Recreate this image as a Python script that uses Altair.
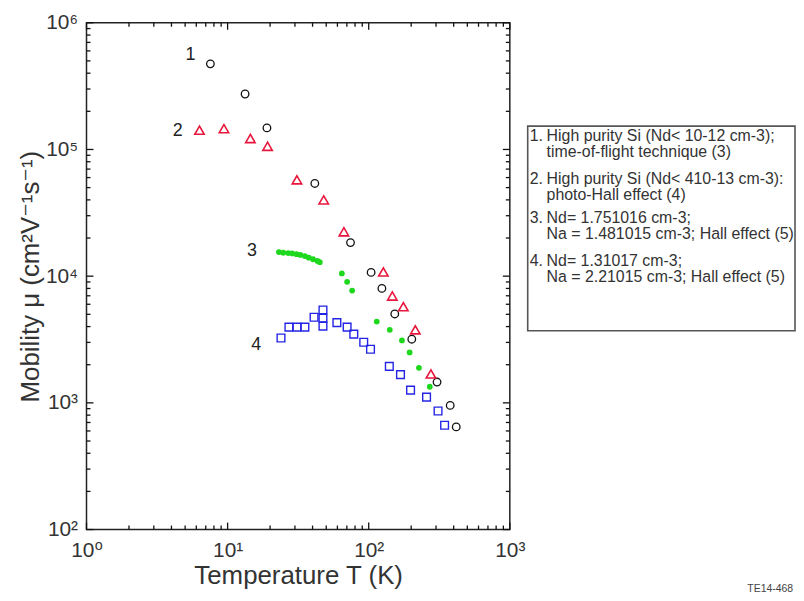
import altair as alt
import pandas as pd

# ---------------- data ----------------
# 1. High purity Si, time-of-flight (black open circles)
t1 = [7.55, 13.3, 19.0, 41.5, 74.3, 104, 124, 153, 202, 305, 378, 417]
m1 = [4.74e5, 2.74e5, 1.48e5, 5.39e4, 1.84e4, 1.07e4, 8.0e3, 5.03e3, 3.18e3, 1.46e3, 955, 646]
# 2. High purity Si, photo-Hall (red open triangles)
t2 = [6.32, 9.42, 14.5, 19.2, 31.0, 48.0, 66.7, 127, 147, 176, 214, 276]
m2 = [1.42e5, 1.46e5, 1.22e5, 1.06e5, 5.76e4, 4.0e4, 2.24e4, 1.08e4, 6.97e3, 5.74e3, 3.77e3, 1.69e3]
# 3. Nd=1.75e16, Na=1.48e15 (green dots)
t3 = [23.1, 24.8, 26.9, 28.7, 30.8, 32.8, 35.3, 37.6, 40.3, 43.3, 45.0,
      64.5, 70.3, 76.3, 114, 141, 172, 195, 227, 271]
m3 = [1.55e4, 1.53e4, 1.52e4, 1.51e4, 1.49e4, 1.47e4, 1.44e4, 1.40e4, 1.36e4, 1.32e4, 1.29e4,
      1.05e4, 9.02e3, 7.69e3, 4.38e3, 3.77e3, 3.11e3, 2.50e3, 1.89e3, 1.34e3]
# 4. Nd=1.3e17, Na=2.2e15 (blue open squares)
t4 = [23.9, 27.2, 31.0, 35.3, 41.0, 47.4, 47.4, 47.4, 59.5, 70.3, 78.4, 92.2, 103,
      140, 168, 198, 257, 310, 345]
m4 = [3.25e3, 3.96e3, 3.96e3, 3.96e3, 4.74e3, 5.41e3, 4.66e3, 4.03e3, 4.30e3, 3.96e3, 3.49e3,
      3.01e3, 2.65e3, 1.94e3, 1.67e3, 1.26e3, 1.11e3, 862, 666]

series_numbers = ["1", "2", "3", "4"]

legend_heads = ["1.", "2.", "3.", "4."]
legend_texts = [
    "High purity Si (Nd< 10-12 cm-3);\ntime-of-flight technique (3)",
    "High purity Si (Nd< 410-13 cm-3):\nphoto-Hall effect (4)",
    "Nd= 1.751016 cm-3;\nNa = 1.481015 cm-3; Hall effect (5)",
    "Nd= 1.31017 cm-3;\nNa = 2.21015 cm-3; Hall effect (5)",
]

x_major = [1, 10, 100, 1000]
y_major = [1e2, 1e3, 1e4, 1e5, 1e6]
x_minor = [m * 10 ** k for k in range(0, 3) for m in range(2, 10)]
y_minor = [m * 10 ** k for k in range(2, 6) for m in range(2, 10)]
footer = "TE14-468"

# ---------------- layout / style ----------------
W, H = 426, 510
FONT = "Liberation Sans, Arial, DejaVu Sans"
TXT = "#333333"

xs = alt.Scale(type="log", domain=[1, 1000], nice=False)
ys = alt.Scale(type="log", domain=[100, 1e6], nice=False)

sup = "['⁰','¹','²','³','⁴','⁵','⁶'][round(log(datum.value)/LN10)]"
xaxis = alt.Axis(values=x_major, labelExpr="'10' + " + sup, ticks=False, tickSize=0,
                 domain=False, grid=False, labelPadding=10, labelFontSize=21,
                 labelFont=FONT, labelColor=TXT, title="Temperature T (K)",
                 titleFont=FONT, titleFontSize=26, titleFontWeight="normal",
                 titleColor=TXT, titlePadding=2, labelFlush=False)
yaxis = alt.Axis(values=y_major, labelExpr="'10' + " + sup, ticks=False, tickSize=0,
                 domain=False, grid=False, labelPadding=9, labelFontSize=21,
                 labelFont=FONT, labelColor=TXT, title="Mobility μ (cm²V⁻¹s⁻¹)",
                 titleFont=FONT, titleFontSize=26, titleFontWeight="normal",
                 titleColor=TXT, titlePadding=2, labelFlush=False)


def X():
    return alt.X("T:Q", scale=xs, axis=xaxis)


def Y():
    return alt.Y("mu:Q", scale=ys, axis=yaxis)


d1 = pd.DataFrame({"T": t1, "mu": m1})
d2 = pd.DataFrame({"T": t2, "mu": m2})
d3 = pd.DataFrame({"T": t3, "mu": m3})
d4 = pd.DataFrame({"T": t4, "mu": m4})

s1 = alt.Chart(d1).mark_point(shape="circle", filled=False, color="#111111",
                              strokeWidth=1.3, size=58, opacity=1).encode(x=X(), y=Y())
s2 = alt.Chart(d2).mark_point(shape="triangle-up", filled=False, color="#e8163c",
                              strokeWidth=1.6, size=90, opacity=1).encode(x=X(), y=Y())
s3 = alt.Chart(d3).mark_circle(color="#1ed81e", size=34, opacity=1).encode(x=X(), y=Y())
s4 = alt.Chart(d4).mark_point(shape="square", filled=False, color="#2424e6",
                              strokeWidth=1.4, size=60, opacity=1).encode(x=X(), y=Y())

# series number labels anchored on each series' first point
offsets = [(-20, -9), (-22, 1), (-27, -1), (-25, 7)]
firsts = [(t1[0], m1[0]), (t2[0], m2[0]), (t3[0], m3[0]), (t4[0], m4[0])]
num_layers = []
for lab, (tt, mm), (dx, dy) in zip(series_numbers, firsts, offsets):
    num_layers.append(
        alt.Chart(pd.DataFrame({"T": [tt], "mu": [mm], "lab": [lab]}))
        .mark_text(font=FONT, fontSize=18, color="#222222", dx=dx, dy=dy)
        .encode(x=X(), y=Y(), text="lab:N")
    )

# small inward ticks on all four sides
TK = "#111111"


def xticks(vals, ln):
    b = alt.Chart(pd.DataFrame({"T": vals}))
    bot = b.mark_rule(color=TK, strokeWidth=1.3, opacity=1).encode(
        x=X(), y=alt.value(H), y2=alt.value(H - ln))
    top = b.mark_rule(color=TK, strokeWidth=1.3, opacity=1).encode(
        x=X(), y=alt.value(0), y2=alt.value(ln))
    return [bot, top]


def yticks(vals, ln):
    b = alt.Chart(pd.DataFrame({"mu": vals}))
    lft = b.mark_rule(color=TK, strokeWidth=1.3, opacity=1).encode(
        y=Y(), x=alt.value(0), x2=alt.value(ln))
    rgt = b.mark_rule(color=TK, strokeWidth=1.3, opacity=1).encode(
        y=Y(), x=alt.value(W), x2=alt.value(W - ln))
    return [lft, rgt]


tick_layers = xticks(x_minor, 4) + xticks(x_major, 7) + yticks(y_minor, 4) + yticks(y_major, 7)

# text legend box at the right
one = pd.DataFrame({"k": [0]})
box = alt.Chart(one).mark_rect(fill="white", stroke="#555555", strokeWidth=1.6).encode(
    x=alt.value(444), x2=alt.value(713), y=alt.value(104), y2=alt.value(310))
leg_layers = [box]
tops = [106, 149, 189, 232]
for head, body, ty in zip(legend_heads, legend_texts, tops):
    leg_layers.append(alt.Chart(one).mark_text(
        font=FONT, fontSize=16, color=TXT, align="left", baseline="top").encode(
        x=alt.value(446), y=alt.value(ty), text=alt.value(head)))
    leg_layers.append(alt.Chart(one).mark_text(
        font=FONT, fontSize=16, color=TXT, align="left", baseline="top",
        lineBreak="\n", lineHeight=16).encode(
        x=alt.value(463), y=alt.value(ty), text=alt.value(body)))

foot = alt.Chart(one).mark_text(font=FONT, fontSize=10.5, color="#444444", align="left",
                                baseline="middle").encode(
    x=alt.value(665), y=alt.value(570), text=alt.value(footer))

chart = alt.layer(s1, s2, s3, s4, *tick_layers, *num_layers, *leg_layers, foot).properties(
    width=W, height=H, background="white",
    autosize=alt.AutoSizeParams(type="none"),
    padding={"left": 79, "top": 13, "right": 288, "bottom": 64},
).configure_view(stroke="#222222", strokeWidth=1.5)

chart.save("out.html", embed_options={"renderer": "svg", "actions": False})
